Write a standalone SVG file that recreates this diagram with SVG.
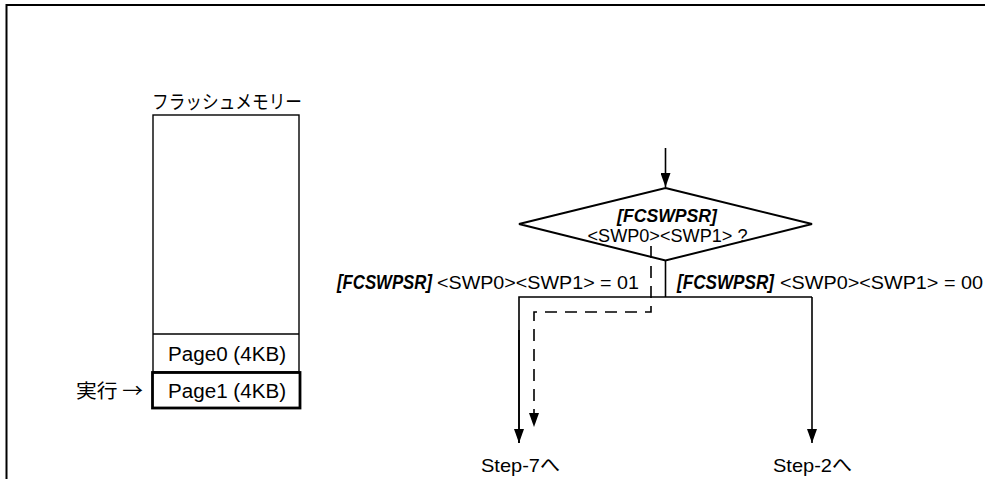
<svg xmlns="http://www.w3.org/2000/svg" width="985" height="479" viewBox="0 0 985 479">
<style>
  text { font-family: "Liberation Sans", Arial, "Noto Sans CJK JP", sans-serif; fill: #000; }
  .jp { font-family: "Liberation Sans", "Noto Sans CJK JP", sans-serif; }
  .cjk { font-family: "Noto Sans CJK JP", sans-serif; }
  .bi { font-weight: bold; font-style: italic; }
  .ln { fill: none; stroke: #000; stroke-width: 1.6; }
  .dash { fill: none; stroke: #000; stroke-width: 1.6; stroke-dasharray: 12 8; }
</style>
<defs>
  <marker id="ah" viewBox="0 0 14 10" refX="14" refY="5" markerWidth="14" markerHeight="10" markerUnits="userSpaceOnUse" orient="auto">
    <path d="M0,0 L14,5 L0,10 Z" fill="#000"/>
  </marker>
</defs>
<rect width="985" height="479" fill="#fff"/>
<g id="frame">
  <path d="M6.5,479 V5 H985" fill="none" stroke="#000" stroke-width="2"/>
</g>
<g id="flash-memory">
  <text class="jp" x="152" y="109" font-size="19" textLength="150" lengthAdjust="spacingAndGlyphs">フラッシュメモリー</text>
  <rect x="153" y="115" width="146" height="257" fill="#fff" stroke="#000" stroke-width="1.4"/>
  <line x1="153" y1="334" x2="299" y2="334" stroke="#000" stroke-width="1.4"/>
</g>
<g id="page0">
  <text x="168" y="361" font-size="20" textLength="118" lengthAdjust="spacingAndGlyphs">Page0 (4KB)</text>
</g>
<g id="page1">
  <rect x="152.5" y="372.5" width="147.5" height="35.5" fill="none" stroke="#000" stroke-width="2.8"/>
  <text x="168" y="398" font-size="20" textLength="118" lengthAdjust="spacingAndGlyphs">Page1 (4KB)</text>
</g>
<g id="exec-label">
  <text class="cjk" x="76" y="398" font-size="19" textLength="67" lengthAdjust="spacingAndGlyphs">実行 →</text>
</g>
<g id="decision">
  <polygon points="665.5,188 812,224 665.5,260.5 519,224" fill="#fff" stroke="#000" stroke-width="2"/>
  <text class="bi" x="667" y="222" font-size="18" text-anchor="middle" textLength="100" lengthAdjust="spacingAndGlyphs">[FCSWPSR]</text>
  <text x="667.5" y="242" font-size="18" text-anchor="middle" textLength="160" lengthAdjust="spacingAndGlyphs">&lt;SWP0&gt;&lt;SWP1&gt; ?</text>
</g>
<g id="connectors">
  <line class="ln" x1="665.5" y1="148" x2="665.5" y2="187" marker-end="url(#ah)"/>
  <path class="ln" d="M665.5,260.5 V297"/>
  <path class="ln" d="M519,443 V297 H812"/>
  <line class="ln" x1="519" y1="330" x2="519" y2="443" marker-end="url(#ah)"/>
  <line class="ln" x1="812" y1="297" x2="812" y2="443" marker-end="url(#ah)"/>
  <path class="dash" d="M651,246 V312 H534 V427" marker-end="url(#ah)"/>
</g>
<g id="label-01">
  <text class="bi" x="337" y="289" font-size="19.5" textLength="95" lengthAdjust="spacingAndGlyphs">[FCSWPSR]</text>
  <text x="437" y="289" font-size="19" textLength="202" lengthAdjust="spacingAndGlyphs">&lt;SWP0&gt;&lt;SWP1&gt; = 01</text>
</g>
<g id="label-00">
  <text class="bi" x="677" y="289" font-size="19.5" textLength="97" lengthAdjust="spacingAndGlyphs">[FCSWPSR]</text>
  <text x="780" y="289" font-size="19" textLength="203" lengthAdjust="spacingAndGlyphs">&lt;SWP0&gt;&lt;SWP1&gt; = 00</text>
</g>
<g id="step7">
  <text class="jp" x="481" y="472" font-size="19" textLength="79" lengthAdjust="spacingAndGlyphs">Step-7へ</text>
</g>
<g id="step2">
  <text class="jp" x="773" y="472" font-size="19" textLength="79" lengthAdjust="spacingAndGlyphs">Step-2へ</text>
</g>
</svg>
